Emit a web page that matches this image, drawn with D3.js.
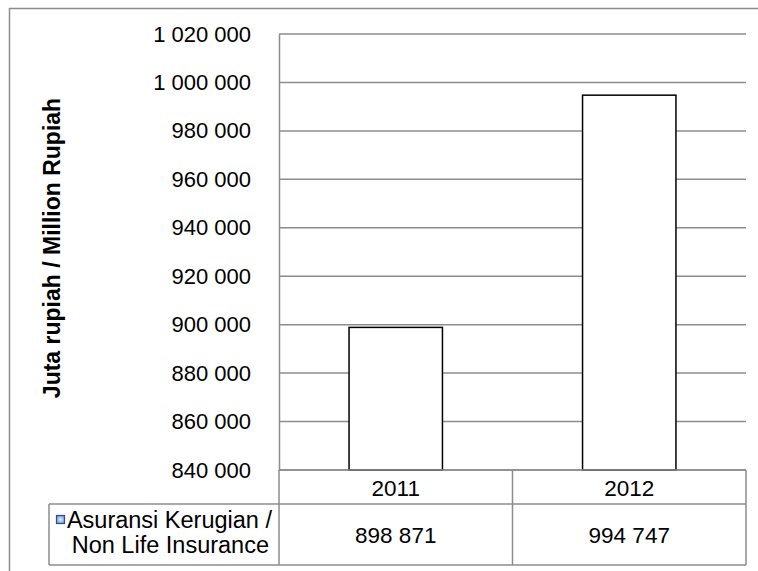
<!DOCTYPE html>
<html>
<head>
<meta charset="utf-8">
<script src="https://cdnjs.cloudflare.com/ajax/libs/d3/7.8.5/d3.min.js"></script>
<style>
  body { margin: 0; background: #fff; }
  text { font-family: "Liberation Sans", Arial, sans-serif; }
</style>
</head>
<body>
<div id="chart"></div>
<script>
const years = ["2011", "2012"]
const values = [898871, 994747]
const valueLabels = ["898 871", "994 747"]
const seriesName = ["Asuransi Kerugian /", "Non Life Insurance"]
const yTicks = [840000, 860000, 880000, 900000, 920000, 940000, 960000, 980000, 1000000, 1020000]

const width = 758, height = 571
const fmt = d => d3.format(",")(d).replace(/,/g, " ")

const svg = d3.select("#chart").append("svg")
  .attr("width", width)
  .attr("height", height)

// outer frame (only top and left visible)
svg.append("path")
  .attr("d", "M9.5,571 V8.5 H758")
  .attr("fill", "none")
  .attr("stroke", "#8c8c8c")
  .attr("stroke-width", 1.5)

const plotL = 279, plotR = 746, plotT = 34, plotB = 470

const yScale = d3.scaleLinear()
  .domain([840000, 1020000])
  .range([plotB, plotT])

const xScale = d3.scaleBand()
  .domain(years)
  .range([plotL, plotR])

// gridlines
svg.append("g")
  .selectAll("line")
  .data(yTicks)
  .join("line")
    .attr("x1", plotL)
    .attr("x2", plotR)
    .attr("y1", d => yScale(d))
    .attr("y2", d => yScale(d))
    .attr("stroke", "#8c8c8c")
    .attr("stroke-width", 1.5)

// y axis
const yAxis = d3.axisLeft(yScale).tickValues(yTicks).tickFormat(fmt).tickSize(0).tickPadding(28)
const yg = svg.append("g")
  .attr("transform", "translate(" + plotL + ",0)")
  .call(yAxis)
yg.select(".domain").attr("stroke", "#8c8c8c").attr("stroke-width", 1.5)
yg.selectAll("text")
  .attr("font-size", 22)
  .attr("fill", "#000")
  .attr("font-family", "'Liberation Sans', Arial, sans-serif")

// axis title
svg.append("text")
  .text("Juta rupiah / Million Rupiah")
  .attr("text-anchor", "middle")
  .attr("font-size", 23)
  .attr("font-weight", "bold")
  .attr("transform", "translate(60,248)rotate(-90)")

// bars
const barW = xScale.bandwidth() * 0.4
svg.append("g")
  .selectAll("rect")
  .data(values)
  .join("rect")
    .attr("x", (d, i) => xScale(years[i]) + (xScale.bandwidth() - barW) / 2)
    .attr("y", d => yScale(d))
    .attr("width", barW)
    .attr("height", d => plotB - yScale(d))
    .attr("fill", "#fff")
    .attr("stroke", "#000")
    .attr("stroke-width", 1.5)

// data table
const tLeft = 49, row1 = 504, row2 = 565
const tbl = svg.append("g")
  .attr("stroke", "#8c8c8c")
  .attr("stroke-width", 1.5)
tbl.append("line").attr("x1", plotL).attr("x2", plotR).attr("y1", plotB).attr("y2", plotB)
tbl.append("line").attr("x1", tLeft).attr("x2", plotR).attr("y1", row1).attr("y2", row1)
tbl.append("line").attr("x1", tLeft).attr("x2", plotR).attr("y1", row2).attr("y2", row2)
tbl.append("line").attr("x1", tLeft).attr("x2", tLeft).attr("y1", row1).attr("y2", row2)
tbl.selectAll(".col")
  .data(years.concat(["end"]))
  .join("line")
    .attr("class", "col")
    .attr("x1", (d, i) => plotL + i * xScale.bandwidth())
    .attr("x2", (d, i) => plotL + i * xScale.bandwidth())
    .attr("y1", plotB)
    .attr("y2", row2)

svg.selectAll(".yr")
  .data(years)
  .join("text")
    .attr("class", "yr")
    .text(d => d)
    .attr("x", d => xScale(d) + xScale.bandwidth() / 2)
    .attr("y", 496)
    .attr("text-anchor", "middle")
    .attr("font-size", 22.5)

svg.selectAll(".val")
  .data(valueLabels)
  .join("text")
    .attr("class", "val")
    .text(d => d)
    .attr("x", (d, i) => xScale(years[i]) + xScale.bandwidth() / 2)
    .attr("y", 543)
    .attr("text-anchor", "middle")
    .attr("font-size", 22.5)

// legend key
const grad = svg.append("defs").append("radialGradient")
  .attr("id", "key")
grad.append("stop").attr("offset", "0%").attr("stop-color", "#e6eef9")
grad.append("stop").attr("offset", "100%").attr("stop-color", "#7fa3d8")
svg.append("rect")
  .attr("x", 56.5).attr("y", 515.5)
  .attr("width", 8).attr("height", 8)
  .attr("fill", "url(#key)")
  .attr("stroke", "#2a4f8a")
  .attr("stroke-width", 1.2)

svg.append("text")
  .text(seriesName[0])
  .attr("x", 272).attr("y", 528)
  .attr("text-anchor", "end")
  .attr("font-size", 23.5)
svg.append("text")
  .text(seriesName[1])
  .attr("x", 269).attr("y", 553)
  .attr("text-anchor", "end")
  .attr("font-size", 23.5)
</script>
</body>
</html>
